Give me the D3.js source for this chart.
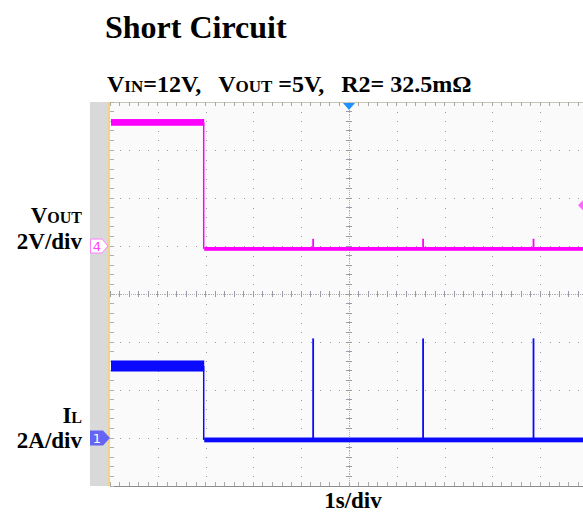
<!DOCTYPE html>
<html>
<head>
<meta charset="utf-8">
<script src="https://cdn.jsdelivr.net/npm/d3@7"></script>
<style>
  body { margin: 0; background: #fff; }
  svg { display: block; }
  text { font-family: "Liberation Serif", "Times New Roman", serif; font-weight: bold; fill: #000; }
</style>
</head>
<body>
<svg id="chart" width="583" height="514"></svg>
<script>
// time axis: 1 s/div, trigger at t = 0
const timeDomain = [-5, 5]
const divRange = [4, -4]

// VOUT (ch4, 2 V/div) segments: level and noise half-band, volts
const voutSegments = [
  {t0: -5.0, t1: -3.05, level: 5.15, noise: 0.14},
  {t0: -3.05, t1: 5.0, level: -0.12, noise: 0.08}
]
const voutSpikes = [
  {t: -0.75, peak: 0.30},
  {t: 1.55, peak: 0.30},
  {t: 3.86, peak: 0.30}
]

// IL (ch1, 2 A/div) segments, amps
const ilSegments = [
  {t0: -5.0, t1: -3.05, level: 3.0, noise: 0.23},
  {t0: -3.05, t1: 5.0, level: -0.08, noise: 0.1}
]
const ilSpikes = [
  {t: -0.75, peak: 4.15},
  {t: 1.55, peak: 4.15},
  {t: 3.86, peak: 4.15}
]

const ch4Ground = 1, ch1Ground = -3   // divisions from centre
const voltsPerDiv = 2, ampsPerDiv = 2

const svg = d3.select("#chart")

const x = d3.scaleLinear().domain(timeDomain).range([110, 588])
const yDiv = d3.scaleLinear().domain(divRange).range([102, 486])
const yV = v => yDiv(ch4Ground + v / voltsPerDiv)
const yI = i => yDiv(ch1Ground + i / ampsPerDiv)

const pLeft = x(-5), pRight = 583, pTop = yDiv(4), pBottom = yDiv(-4)

// titles
svg.append("text").attr("x", 105).attr("y", 38).style("font-size", "32px").text("Short Circuit")

const sub = svg.append("text").attr("x", 107).attr("y", 92).style("font-size", "24px")
sub.append("tspan").text("V")
sub.append("tspan").style("font-size", "17px").text("IN")
sub.append("tspan").text("=12V,")
sub.append("tspan").attr("dx", 17).text("V")
sub.append("tspan").style("font-size", "17px").text("OUT")
sub.append("tspan").text(" =5V,")
sub.append("tspan").attr("dx", 17).text("R2= 32.5mΩ")

// left gray strip
svg.append("rect").attr("x", 90).attr("y", pTop).attr("width", 18).attr("height", pBottom - pTop).attr("fill", "#d9d9d9")

// plot background
svg.append("rect").attr("x", pLeft).attr("y", pTop).attr("width", pRight - pLeft).attr("height", pBottom - pTop).attr("fill", "#fafafa")

const grid = svg.append("g").attr("shape-rendering", "crispEdges")

// dotted major grid lines
const minorT = d3.range(-25, 26).map(k => k / 5)
const minorD = d3.range(-20, 21).map(k => k / 5)
d3.range(-4, 5).forEach(t => {
  if (t === 0) return
  grid.selectAll(null).data(minorD).join("rect")
    .attr("x", x(t)).attr("y", d => yDiv(d)).attr("width", 1).attr("height", 1).attr("fill", "#9a9a9a")
})
d3.range(-3, 4).forEach(d0 => {
  if (d0 === 0) return
  grid.selectAll(null).data(minorT).join("rect")
    .attr("x", t => x(t)).attr("y", yDiv(d0)).attr("width", 1).attr("height", 1).attr("fill", "#9a9a9a")
})

// centre axes with minor ticks
const fineT = d3.range(-125, 126).map(k => k / 25)
const fineD = d3.range(-100, 101).map(k => k / 25)
grid.selectAll(null).data(fineT).join("rect")
  .attr("x", t => x(t)).attr("y", yDiv(0)).attr("width", 1).attr("height", 1).attr("fill", "#b0b0b0")
grid.selectAll(null).data(minorT).join("line")
  .attr("x1", t => x(t)).attr("x2", t => x(t)).attr("y1", yDiv(0) - 3).attr("y2", yDiv(0) + 3)
  .attr("stroke", "#9a9aa8")
grid.selectAll(null).data(fineD).join("rect")
  .attr("x", x(0)).attr("y", d => yDiv(d)).attr("width", 1).attr("height", 1).attr("fill", "#b0b0b0")
grid.selectAll(null).data(minorD).join("line")
  .attr("x1", x(0) - 3).attr("x2", x(0) + 3).attr("y1", d => yDiv(d)).attr("y2", d => yDiv(d))
  .attr("stroke", "#9a9aa8")

// border rulers
grid.append("line").attr("x1", pLeft).attr("x2", pRight).attr("y1", pTop).attr("y2", pTop).attr("stroke", "#c8c8b8")
grid.append("line").attr("x1", pLeft).attr("x2", pRight).attr("y1", pBottom).attr("y2", pBottom).attr("stroke", "#8c8c8c")
grid.selectAll(null).data(minorT).join("line")
  .attr("x1", t => x(t)).attr("x2", t => x(t)).attr("y1", pTop).attr("y2", pTop + 4).attr("stroke", "#a8a8a0")
grid.selectAll(null).data(minorT).join("line")
  .attr("x1", t => x(t)).attr("x2", t => x(t)).attr("y1", pBottom - 4).attr("y2", pBottom).attr("stroke", "#a8a8a8")
grid.selectAll(null).data(minorD).join("line")
  .attr("x1", pLeft).attr("x2", pLeft + 4).attr("y1", d => yDiv(d)).attr("y2", d => yDiv(d)).attr("stroke", "#b0b0a8")
grid.append("line").attr("x1", pLeft - 1).attr("x2", pLeft - 1).attr("y1", pTop).attr("y2", pBottom)
  .attr("stroke", "#f2d488").attr("stroke-width", 2)

// traces
function drawTrace(segments, spikes, yf, color) {
  const g = svg.append("g")
  g.selectAll("rect.band").data(segments).join("rect").attr("class", "band")
    .attr("x", d => x(d.t0) + 1).attr("width", d => x(d.t1) - x(d.t0))
    .attr("y", d => yf(d.level + d.noise)).attr("height", d => yf(d.level - d.noise) - yf(d.level + d.noise))
    .attr("fill", color)
  // step edges between segments
  d3.pairs(segments).forEach(([a, b]) => {
    g.append("line").attr("x1", x(a.t1) + 0.5).attr("x2", x(a.t1) + 0.5)
      .attr("y1", yf(a.level)).attr("y2", yf(b.level)).attr("stroke", color).attr("stroke-width", 1.5)
  })
  const lowOf = t => segments.find(s => t >= s.t0 && t <= s.t1).level
  g.selectAll("line.spike").data(spikes).join("line").attr("class", "spike")
    .attr("x1", d => x(d.t)).attr("x2", d => x(d.t))
    .attr("y1", d => yf(lowOf(d.t))).attr("y2", d => yf(d.peak))
    .attr("stroke", color).attr("stroke-width", 1.8)
}
drawTrace(voutSegments, voutSpikes, yV, "#ff00ff")
drawTrace(ilSegments, ilSpikes, yI, "#0a0aff")

// trigger marker (top) and trigger level marker (right)
svg.append("path").attr("d", `M${x(0) - 6},${pTop + 1}L${x(0) + 6},${pTop + 1}L${x(0)},${pTop + 8}Z`).attr("fill", "#1e90ff")
svg.append("path").attr("d", `M${pRight - 5},${yDiv(1.85)}L${pRight},${yDiv(1.85) - 5}L${pRight},${yDiv(1.85) + 5}Z`).attr("fill", "#ff66ff")

// channel ground markers
const m4 = yDiv(ch4Ground), m1 = yDiv(ch1Ground)
svg.append("path").attr("d", `M90.5,${m4 - 7}H102L108,${m4}L102,${m4 + 7}H90.5Z`)
  .attr("fill", "#fff").attr("stroke", "#ff80ff")
svg.append("text").attr("x", 97).attr("y", m4 + 5).attr("text-anchor", "middle")
  .style("font-family", "DejaVu Sans").style("font-weight", "normal").style("font-size", "13px").style("fill", "#ff40ff").text("4")
svg.append("path").attr("d", `M90,${m1 - 7.5}H103L110,${m1}L103,${m1 + 7.5}H90Z`).attr("fill", "#6464f5")
svg.append("text").attr("x", 97).attr("y", m1 + 5).attr("text-anchor", "middle")
  .style("font-family", "DejaVu Sans").style("font-weight", "normal").style("font-size", "13px").style("fill", "#fff").text("1")

// channel labels
const vl = svg.append("text").attr("x", 82).attr("y", 223).attr("text-anchor", "end").style("font-size", "23px")
vl.append("tspan").text("V")
vl.append("tspan").style("font-size", "16px").text("OUT")
svg.append("text").attr("x", 82).attr("y", 249).attr("text-anchor", "end").style("font-size", "23px").text("2V/div")
const il = svg.append("text").attr("x", 82).attr("y", 423).attr("text-anchor", "end").style("font-size", "23px")
il.append("tspan").text("I")
il.append("tspan").style("font-size", "16px").text("L")
svg.append("text").attr("x", 82).attr("y", 448).attr("text-anchor", "end").style("font-size", "23px").text("2A/div")

svg.append("text").attr("x", 353).attr("y", 508).attr("text-anchor", "middle").style("font-size", "23px").text("1s/div")
</script>
</body>
</html>
